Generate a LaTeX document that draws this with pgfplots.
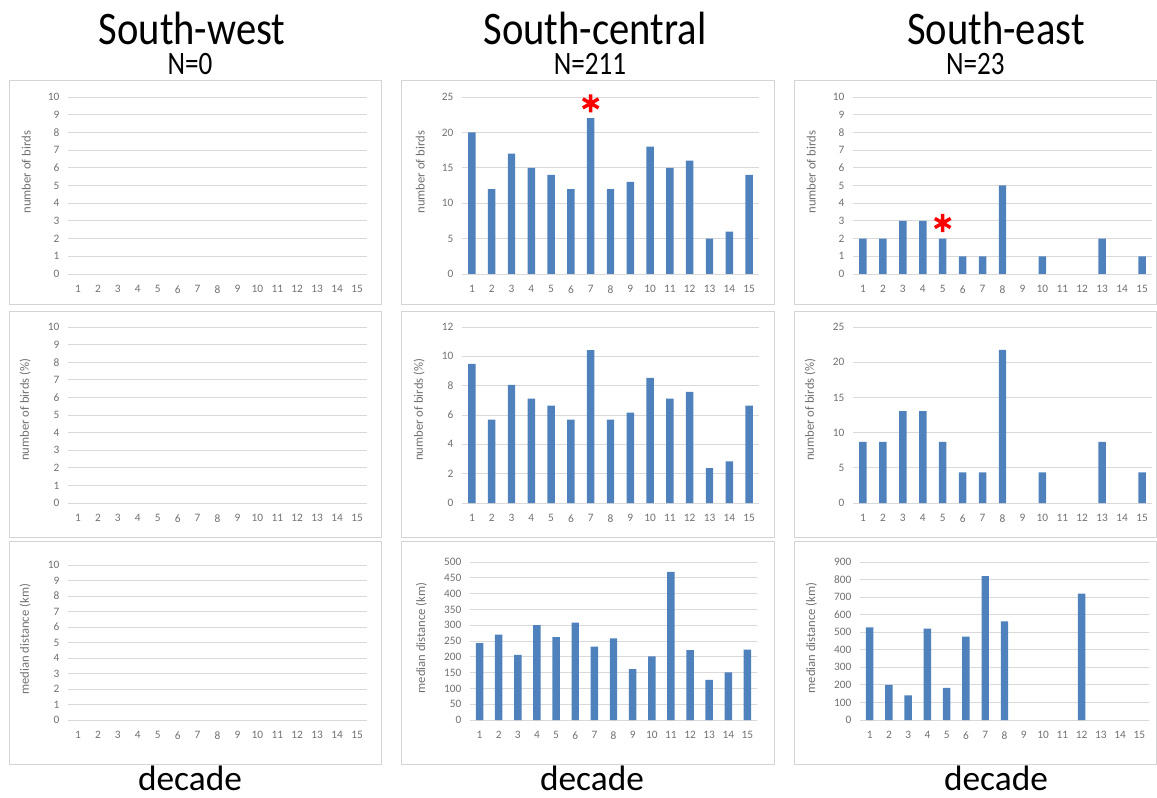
\documentclass[border=0pt]{standalone}
\usepackage{fontspec}
\setmainfont{Carlito}
\usepackage{graphicx}
\usepackage{pgfplots}
\pgfplotsset{compat=1.18}
\definecolor{barblue}{HTML}{4F81BD}
\definecolor{gridgray}{HTML}{D9D9D9}
\definecolor{tickgray}{HTML}{707070}
\definecolor{framegray}{HTML}{D4D4D4}
\newcommand{\ttl}[3]{\vbox{\baselineskip=22.5pt\lineskiplimit=-100pt\lineskip=0pt
  \hbox to 250pt{\hss\kern#3\scalebox{0.87}[1]{\fontsize{35}{38}\selectfont #1}\hss}
  \hbox to 250pt{\hss\scalebox{0.83}[1]{\fontsize{24.5}{26}\selectfont #2}\hss}}}
\pgfplotsset{
  panel/.style={
    scale only axis, anchor=south west,
    xmin=0.5, xmax=15.5, ymin=0,
    xtick={1,...,15},
    ymajorgrids, grid style={draw=gridgray, line width=0.7pt},
    axis line style={draw=none},
    major tick length=0pt,
    tick label style={font=\fontsize{8.5}{9}\selectfont, text=tickgray},
    xticklabel style={yshift=-5pt},
    yticklabel style={xshift=-3pt},
    ylabel style={font=\fontsize{9.5}{10}\selectfont, text=tickgray},
    /pgf/number format/assume math mode=true,
    clip=false,
  },
  bars/.style={ybar, bar width=5.6pt, fill=barblue, draw=none},
  star/.style={only marks, mark=asterisk, mark size=6.8pt, mark options={draw=red, line width=2.6pt}},
}
\begin{document}
\begin{tikzpicture}
\path[use as bounding box] (0pt,0pt) rectangle (867.75pt,-598.5pt);
% panel frames
\begin{scope}[draw=framegray, line width=0.75pt]
\foreach \xa/\xb in {6.75/285.75, 300.75/580.5, 595.5/867}{
  \draw (\xa pt,-60.75pt) rectangle (\xb pt,-228.75pt);
  \draw (\xa pt,-234pt) rectangle (\xb pt,-402.75pt);
  \draw (\xa pt,-405.75pt) rectangle (\xb pt,-573pt);
}
\end{scope}
% titles
\begin{scope}[every node/.style={anchor=base, inner sep=0pt}]
\node at (142.5pt,-56.25pt) {\ttl{South-west}{N=0}{3pt}};
\node at (442.5pt,-56.25pt) {\ttl{South-central}{N=211}{7.5pt}};
\node at (731.6pt,-56.25pt) {\ttl{South-east}{N=23}{30.8pt}};
\node at (142.5pt,-592.5pt) {\fontsize{26.5}{30}\selectfont decade};
\node at (444pt,-592.5pt) {\fontsize{26.5}{30}\selectfont decade};
\node at (747pt,-592.5pt) {\fontsize{26.5}{30}\selectfont decade};
\end{scope}

% ---------- Row 1 ----------
\begin{axis}[panel, at={(51pt,-205.5pt)}, width=224.25pt, height=132.75pt,
  ymax=10, ytick={0,1,...,10}, ylabel={number of birds},
  ylabel style={at={(ticklabel cs:0.575,6pt)}}]
\end{axis}
\begin{axis}[panel, at={(346.5pt,-205.5pt)}, width=222.75pt, height=132.75pt,
  ymax=25, ytick={0,5,...,25}, ylabel={number of birds},
  ylabel style={at={(ticklabel cs:0.575,6pt)}}]
\addplot[bars] coordinates {(1,20) (2,12) (3,17) (4,15) (5,14) (6,12) (7,22) (8,12) (9,13) (10,18) (11,15) (12,16) (13,5) (14,6) (15,14)};
\addplot[star] coordinates {(7,24.1)};
\end{axis}
\begin{axis}[panel, at={(639.75pt,-205.5pt)}, width=224.25pt, height=132.75pt,
  ymax=10, ytick={0,1,...,10}, ylabel={number of birds},
  ylabel style={at={(ticklabel cs:0.575,6pt)}}]
\addplot[bars] coordinates {(1,2) (2,2) (3,3) (4,3) (5,2) (6,1) (7,1) (8,5) (10,1) (13,2) (15,1)};
\addplot[star] coordinates {(5,2.88)};
\end{axis}

% ---------- Row 2 ----------
\begin{axis}[panel, at={(51pt,-377.25pt)}, width=224.25pt, height=132pt,
  ymax=10, ytick={0,1,...,10}, ylabel={number of birds (\%)},
  ylabel style={at={(ticklabel cs:0.53,6pt)}}]
\end{axis}
\begin{axis}[panel, at={(346.5pt,-377.25pt)}, width=222.75pt, height=132pt,
  ymax=12, ytick={0,2,...,12}, ylabel={number of birds (\%)},
  ylabel style={at={(ticklabel cs:0.53,6pt)}}]
\addplot[bars] coordinates {(1,9.48) (2,5.69) (3,8.06) (4,7.11) (5,6.64) (6,5.69) (7,10.43) (8,5.69) (9,6.16) (10,8.53) (11,7.11) (12,7.58) (13,2.37) (14,2.84) (15,6.64)};
\end{axis}
\begin{axis}[panel, at={(639.75pt,-377.25pt)}, width=224.25pt, height=132pt,
  ymax=25, ytick={0,5,...,25}, ylabel={number of birds (\%)},
  ylabel style={at={(ticklabel cs:0.53,6pt)}}]
\addplot[bars] coordinates {(1,8.70) (2,8.70) (3,13.04) (4,13.04) (5,8.70) (6,4.35) (7,4.35) (8,21.74) (10,4.35) (13,8.70) (15,4.35)};
\end{axis}

% ---------- Row 3 ----------
\begin{axis}[panel, at={(51pt,-540pt)}, width=224.25pt, height=116.25pt,
  ymax=10, ytick={0,1,...,10}, ylabel={median distance (km)},
  ylabel style={at={(ticklabel cs:0.52,6pt)}}]
\end{axis}
\begin{axis}[panel, at={(352.5pt,-540pt)}, width=215.25pt, height=118.5pt,
  ymax=500, ytick={0,50,...,500}, ylabel={median distance (km)},
  ylabel style={at={(ticklabel cs:0.52,6pt)}}]
\addplot[bars] coordinates {(1,243) (2,270) (3,206) (4,300) (5,262) (6,308) (7,232) (8,258) (9,161) (10,201) (11,469) (12,221) (13,127) (14,151) (15,223)};
\end{axis}
\begin{axis}[panel, at={(645pt,-540pt)}, width=216.75pt, height=118.5pt,
  ymax=900, ytick={0,100,...,900}, ylabel={median distance (km)},
  ylabel style={at={(ticklabel cs:0.52,6pt)}}]
\addplot[bars] coordinates {(1,527) (2,200) (3,140) (4,520) (5,183) (6,475) (7,820) (8,562) (12,720)};
\end{axis}
\end{tikzpicture}
\end{document}
